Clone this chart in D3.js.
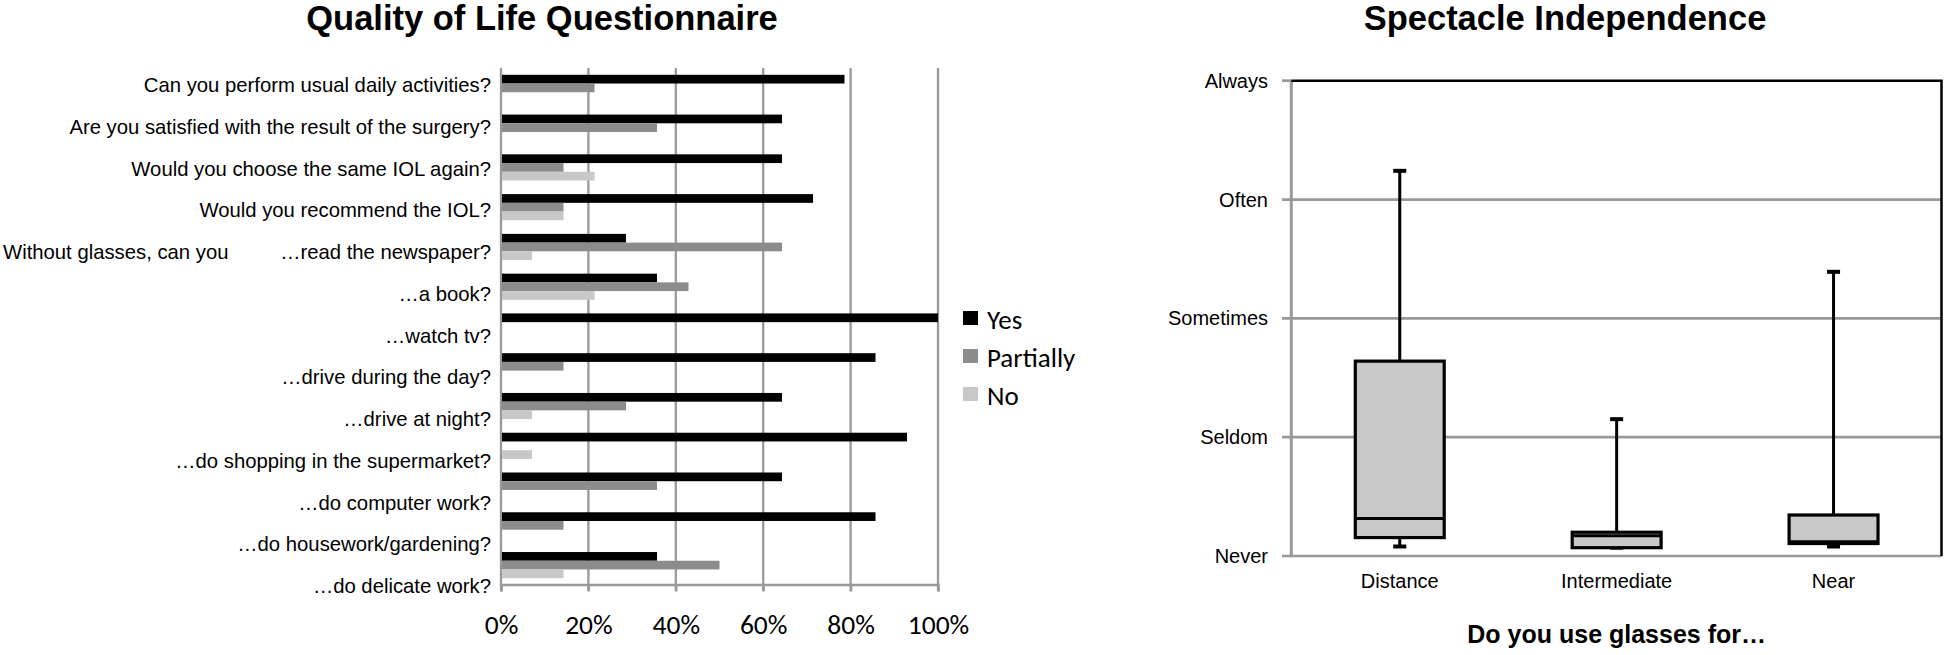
<!DOCTYPE html>
<html>
<head>
<meta charset="utf-8">
<script src="https://cdn.jsdelivr.net/npm/d3@7"></script>
<style>
  body { margin: 0; background: #fff; }
  svg { display: block; }
  .arial { font-family: "Liberation Sans", Arial, sans-serif; }
  .calibri { font-family: Carlito, Calibri, Lato, sans-serif; }
</style>
</head>
<body>
<svg id="chart" width="1946" height="655"></svg>
<script>
// left panel: quality of life answers, % of patients
var questions = [
    "Can you perform usual daily activities?",
    "Are you satisfied with the result of the surgery?",
    "Would you choose the same IOL again?",
    "Would you recommend the IOL?",
    "…read the newspaper?",
    "…a book?",
    "…watch tv?",
    "…drive during the day?",
    "…drive at night?",
    "…do shopping in the supermarket?",
    "…do computer work?",
    "…do housework/gardening?",
    "…do delicate work?"
]
var yesPct = [78.6, 64.3, 64.3, 71.4, 28.6, 35.7, 100, 85.7, 64.3, 92.9, 64.3, 85.7, 35.7]
var partiallyPct = [21.4, 35.7, 14.3, 14.3, 64.3, 42.9, 0, 14.3, 28.6, 0, 35.7, 14.3, 50.0]
var noPct = [0, 0, 21.4, 14.3, 7.1, 21.4, 0, 0, 7.1, 7.1, 0, 0, 14.3]
var answers = ["Yes", "Partially", "No"]
var answerColors = ["#000000", "#8c8c8c", "#c8c8c8"]
var pctTicks = [0, 20, 40, 60, 80, 100]

// right panel: spectacle independence boxplots
var glassUses = ["Distance", "Intermediate", "Near"]
var whiskerMin = [0.08, 0.07, 0.08]
var boxQ1 = [0.155, 0.07, 0.105]
var boxMedian = [0.315, 0.17, 0.12]
var boxQ3 = [1.64, 0.20, 0.345]
var whiskerMax = [3.25, 1.16, 2.40]
var frequencyLabels = ["Never", "Seldom", "Sometimes", "Often", "Always"]

var svg = d3.select("#chart")
var gridGray = "#999"

// ---------- left chart ----------
var x = d3.scaleLinear().domain([0, 100]).range([501, 938])
var y = d3.scaleBand().domain(questions).range([68, 585])
var yInner = d3.scaleBand().domain(answers).range([0, y.bandwidth()]).paddingOuter(0.78)
var yLabel = d3.scalePoint().domain(questions).range([85, 586])
var colors = d3.scaleOrdinal().domain(answers).range(answerColors)

var left = svg.append("g")

left.selectAll(".grid")
    .data(pctTicks.slice(1))
    .enter()
    .append("line")
    .attr("x1", d => x(d)).attr("x2", d => x(d))
    .attr("y1", 68).attr("y2", 591)
    .attr("stroke", gridGray).attr("stroke-width", 2.3)

var xAxis = d3.axisBottom(x).tickValues(pctTicks).tickSize(7).tickFormat(d => d + "%")
var xg = left.append("g").attr("transform", "translate(0,584.5)").call(xAxis)
xg.select(".domain").attr("stroke", gridGray).attr("stroke-width", 2.3)
xg.selectAll(".tick line").attr("stroke", gridGray).attr("stroke-width", 2.3)
xg.selectAll(".tick text")
    .attr("class", "calibri")
    .attr("font-size", 27.5).attr("fill", "#000")
    .attr("y", 30).attr("dy", "0.71em")

left.append("line")
    .attr("x1", x(0)).attr("x2", x(0))
    .attr("y1", 68).attr("y2", 591)
    .attr("stroke", gridGray).attr("stroke-width", 2.3)

var rows = questions.map(function (q, i) {
    return { q: q, values: [yesPct[i], partiallyPct[i], noPct[i]] }
})

var groups = left.selectAll(".row")
    .data(rows)
    .enter()
    .append("g")
    .attr("transform", d => `translate(0,${y(d.q)})`)

groups.selectAll("rect")
    .data(d => d.values.map((v, i) => ({ key: answers[i], value: v })))
    .enter()
    .append("rect")
    .attr("x", x(0) + 1)
    .attr("y", d => yInner(d.key))
    .attr("width", d => Math.max(0, x(d.value) - x(0) - 1))
    .attr("height", yInner.bandwidth())
    .attr("fill", d => colors(d.key))

left.selectAll(".qlabel")
    .data(questions)
    .enter()
    .append("text")
    .attr("class", "arial")
    .attr("x", 491)
    .attr("y", d => yLabel(d))
    .attr("dy", "0.35em")
    .attr("text-anchor", "end")
    .attr("font-size", 20.3)
    .text(d => d)

left.append("text")
    .attr("class", "arial")
    .attr("x", 3)
    .attr("y", yLabel(questions[4]))
    .attr("dy", "0.35em")
    .attr("font-size", 20.3)
    .text("Without glasses, can you")

left.append("text")
    .attr("class", "arial")
    .attr("x", 542).attr("y", 30)
    .attr("text-anchor", "middle")
    .attr("font-size", 34.5).attr("font-weight", "bold")
    .text("Quality of Life Questionnaire")

// legend
var legendY = d3.scalePoint().domain(answers).range([318, 394])
var legend = left.selectAll(".legend")
    .data(answers)
    .enter()
    .append("g")
    .attr("transform", d => `translate(963,${legendY(d)})`)
legend.append("rect")
    .attr("x", 0).attr("y", -7)
    .attr("width", 15).attr("height", 14)
    .attr("fill", d => colors(d))
legend.append("text")
    .attr("class", "calibri")
    .attr("x", 24).attr("y", 1)
    .attr("dy", "0.36em")
    .attr("font-size", 27)
    .text(d => d)

// ---------- right chart ----------
var bx = d3.scaleBand().domain(glassUses).range([1291.3, 1942])
var by = d3.scaleLinear().domain([0, 4]).range([556, 80.7])

var right = svg.append("g")

right.selectAll(".hgrid")
    .data(d3.range(frequencyLabels.length))
    .enter()
    .append("line")
    .attr("x1", 1282).attr("x2", 1942)
    .attr("y1", d => by(d)).attr("y2", d => by(d))
    .attr("stroke", d => d == 4 ? "none" : gridGray)
    .attr("stroke-width", 2.7)

right.append("line")
    .attr("x1", 1282).attr("x2", 1291.3)
    .attr("y1", by(4)).attr("y2", by(4))
    .attr("stroke", gridGray).attr("stroke-width", 2.7)

right.append("line")
    .attr("x1", 1291.3).attr("x2", 1291.3)
    .attr("y1", by(4)).attr("y2", by(0) + 1.3)
    .attr("stroke", gridGray).attr("stroke-width", 3)

// top + right frame
right.append("path")
    .attr("d", `M1291.3,${by(4)}H1941.5V${by(0)}`)
    .attr("fill", "none").attr("stroke", "#000").attr("stroke-width", 2.5)

right.selectAll(".ylab")
    .data(frequencyLabels)
    .enter()
    .append("text")
    .attr("class", "arial")
    .attr("x", 1268)
    .attr("y", (d, i) => by(i))
    .attr("dy", "0.35em")
    .attr("text-anchor", "end")
    .attr("font-size", 20)
    .text(d => d)

right.selectAll(".xlab")
    .data(glassUses)
    .enter()
    .append("text")
    .attr("class", "arial")
    .attr("x", d => bx(d) + bx.bandwidth() / 2)
    .attr("y", 587.5)
    .attr("text-anchor", "middle")
    .attr("font-size", 20)
    .text(d => d)

var boxes = glassUses.map(function (g, i) {
    return { name: g, min: whiskerMin[i], q1: boxQ1[i], med: boxMedian[i], q3: boxQ3[i], max: whiskerMax[i] }
})
var boxW = bx.bandwidth() * 0.41
var capW = 13

var bg = right.selectAll(".box")
    .data(boxes)
    .enter()
    .append("g")
    .attr("transform", d => `translate(${bx(d.name) + bx.bandwidth() / 2},0)`)

bg.append("line")
    .attr("x1", 0).attr("x2", 0)
    .attr("y1", d => by(d.max)).attr("y2", d => by(d.min))
    .attr("stroke", "#000").attr("stroke-width", 3)
bg.append("rect")
    .attr("x", -capW / 2).attr("width", capW)
    .attr("y", d => by(d.max) - 1).attr("height", 4)
    .attr("fill", "#000")
bg.append("rect")
    .attr("x", -capW / 2).attr("width", capW)
    .attr("y", d => by(d.min) - 2).attr("height", 4)
    .attr("fill", "#000")
bg.append("rect")
    .attr("x", -boxW / 2).attr("width", boxW)
    .attr("y", d => by(d.q3))
    .attr("height", d => by(d.q1) - by(d.q3))
    .attr("fill", "#c8c8c8").attr("stroke", "#000").attr("stroke-width", 3.2)
bg.append("line")
    .attr("x1", -boxW / 2).attr("x2", boxW / 2)
    .attr("y1", d => by(d.med)).attr("y2", d => by(d.med))
    .attr("stroke", "#000").attr("stroke-width", 3)

right.append("text")
    .attr("class", "arial")
    .attr("x", 1565).attr("y", 30)
    .attr("text-anchor", "middle")
    .attr("font-size", 34.5).attr("font-weight", "bold")
    .text("Spectacle Independence")

right.append("text")
    .attr("class", "arial")
    .attr("x", bx(glassUses[1]) + bx.bandwidth() / 2).attr("y", 643)
    .attr("text-anchor", "middle")
    .attr("font-size", 25).attr("font-weight", "bold")
    .text("Do you use glasses for…")
</script>
</body>
</html>
